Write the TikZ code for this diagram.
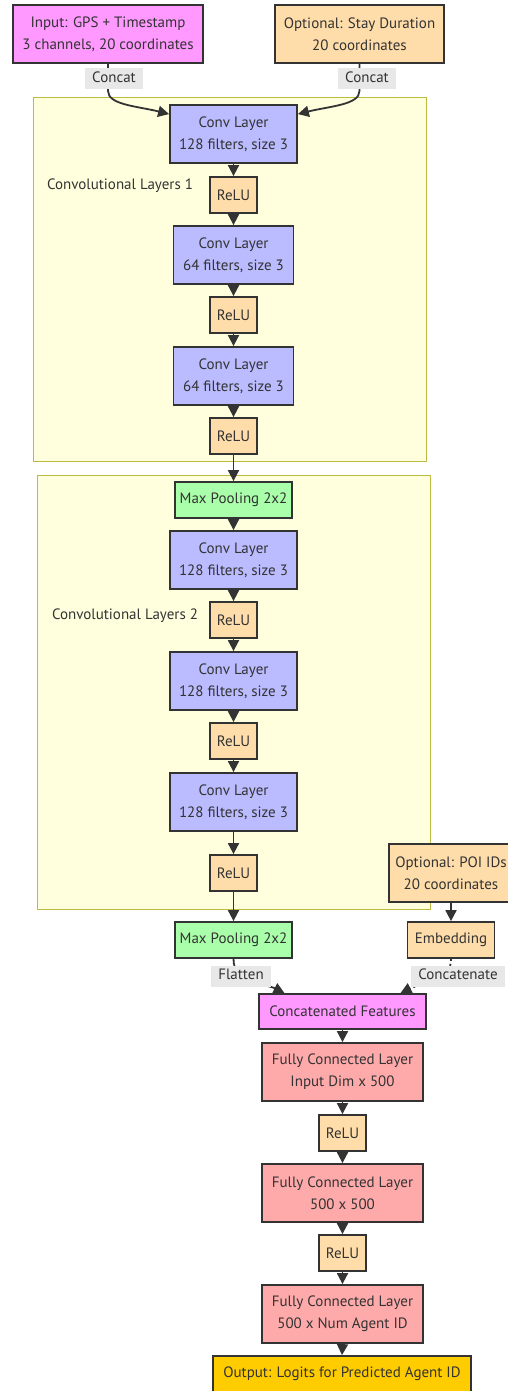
\documentclass[tikz,border=0pt]{standalone}
\usepackage{fontspec}
\setmainfont{PT Sans}
\usetikzlibrary{arrows.meta,calc}
\definecolor{ink}{HTML}{333333}
\definecolor{mag}{HTML}{FF99FF}
\definecolor{peach}{HTML}{FFDDAA}
\definecolor{convblue}{HTML}{BBBBFF}
\definecolor{poolgreen}{HTML}{AAFFAA}
\definecolor{fcred}{HTML}{FFAAAA}
\definecolor{gold}{HTML}{FFCC00}
\definecolor{clfill}{HTML}{FFFFDE}
\definecolor{cldraw}{HTML}{BBBB44}
\definecolor{labbg}{HTML}{E8E8E8}
\begin{document}
\begin{tikzpicture}[x=1pt,y=-1pt,
  txt/.style={text=ink,font=\fontsize{15}{22}\selectfont},
  box/.style={txt,draw=ink,line width=1.8pt,align=center,inner sep=0pt},
  tall/.style={box,minimum height=58pt},
  short/.style={box,minimum height=36pt},
  cluster/.style={fill=clfill,draw=cldraw,line width=1pt},
  arr/.style={draw=ink,line width=1.8pt,-{Triangle[length=11pt,width=11pt]}},
  lab/.style={txt,fill=labbg,inner sep=0pt,minimum height=21pt,text height=10.5pt,text depth=3pt,inner xsep=7pt}
]
\useasboundingbox (0,0) rectangle (508,1391);
\fill[white] (0,0) rectangle (508,1391);
% clusters
\draw[cluster] (33,98) rectangle (426,461);
\draw[cluster] (37,475) rectangle (430,909);
\node[txt] (cl1) at (120,186) {Convolutional Layers 1};
\node[txt] (cl2) at (125,616) {Convolutional Layers 2};
% nodes
\node[tall,fill=mag,minimum width=190pt] (in) at (108,34) {Input: GPS + Timestamp\\3 channels, 20 coordinates};
\node[tall,fill=peach,minimum width=169pt] (stay) at (359.5,34) {Optional: Stay Duration\\20 coordinates};
\node[tall,fill=convblue,minimum width=127pt] (conv1) at (233.5,134) {Conv Layer\\128 filters, size 3};
\node[short,fill=peach,minimum width=47pt] (relu1) at (233.5,195) {ReLU};
\node[tall,fill=convblue,minimum width=120pt] (conv2) at (233.5,255) {Conv Layer\\64 filters, size 3};
\node[short,fill=peach,minimum width=47pt] (relu2) at (233.5,315) {ReLU};
\node[tall,fill=convblue,minimum width=120pt] (conv3) at (233.5,376) {Conv Layer\\64 filters, size 3};
\node[short,fill=peach,minimum width=47pt] (relu3) at (233.5,436) {ReLU};
\node[short,fill=poolgreen,minimum width=117pt] (pool1) at (233.5,500) {Max Pooling 2x2};
\node[tall,fill=convblue,minimum width=127pt] (conv4) at (233.5,560) {Conv Layer\\128 filters, size 3};
\node[short,fill=peach,minimum width=47pt] (relu4) at (233.5,620) {ReLU};
\node[tall,fill=convblue,minimum width=127pt] (conv5) at (233.5,681) {Conv Layer\\128 filters, size 3};
\node[short,fill=peach,minimum width=47pt] (relu5) at (233.5,741) {ReLU};
\node[tall,fill=convblue,minimum width=127pt] (conv6) at (233.5,802) {Conv Layer\\128 filters, size 3};
\node[short,fill=peach,minimum width=47pt] (relu6) at (233.5,873) {ReLU};
\node[short,fill=poolgreen,minimum width=117pt] (pool2) at (233.5,940) {Max Pooling 2x2};
\node[tall,fill=peach,minimum width=124pt] (poi) at (451,873) {Optional: POI IDs\\20 coordinates};
\node[short,fill=peach,minimum width=87pt] (emb) at (451,940) {Embedding};
\node[box,fill=mag,minimum width=167pt,minimum height=35pt] (cf) at (342.5,1011.5) {Concatenated Features};
\node[tall,fill=fcred,minimum width=161pt] (fc1) at (342.5,1072) {Fully Connected Layer\\Input Dim x 500};
\node[short,fill=peach,minimum width=47pt] (relu7) at (342.5,1133) {ReLU};
\node[tall,fill=fcred,minimum width=161pt] (fc2) at (342.5,1193) {Fully Connected Layer\\500 x 500};
\node[short,fill=peach,minimum width=47pt] (relu8) at (342.5,1253) {ReLU};
\node[tall,fill=fcred,minimum width=161pt] (fc3) at (342.5,1314) {Fully Connected Layer\\500 x Num Agent ID};
\node[short,fill=gold,minimum width=258pt] (out) at (342,1374) {Output: Logits for Predicted Agent ID};
% straight edges
\foreach \a/\b in {conv1/relu1,relu1/conv2,conv2/relu2,relu2/conv3,conv3/relu3,relu3/pool1,
  pool1/conv4,conv4/relu4,relu4/conv5,conv5/relu5,relu5/conv6,conv6/relu6,relu6/pool2,
  poi/emb,cf/fc1,fc1/relu7,relu7/fc2,fc2/relu8,relu8/fc3,fc3/out}
  \draw[arr] (\a.south) -- (\b.north);
% curved edges
\draw[arr] (in.south) -- ++(0,27) .. controls +(0,14) and +(-32,-8) .. ([yshift=-10pt]conv1.north west);
\draw[arr] (stay.south) -- ++(0,27) .. controls +(0,14) and +(32,-8) .. ([yshift=-10pt]conv1.north east);
\draw[arr] (pool2.south) .. controls +(0,26) and +(-20,-10) .. ([xshift=-58pt]cf.north);
\draw[arr,dash pattern=on 2pt off 3pt] (emb.south) .. controls +(0,26) and +(20,-10) .. ([xshift=58pt]cf.north);
% edge labels
\node[lab] (l1) at (114,79) {Concat};
\node[lab] (l2) at (367,79) {Concat};
\node[lab] (l3) at (241,976) {Flatten};
\node[lab] (l4) at (458,976) {Concatenate};
\end{tikzpicture}
\end{document}
